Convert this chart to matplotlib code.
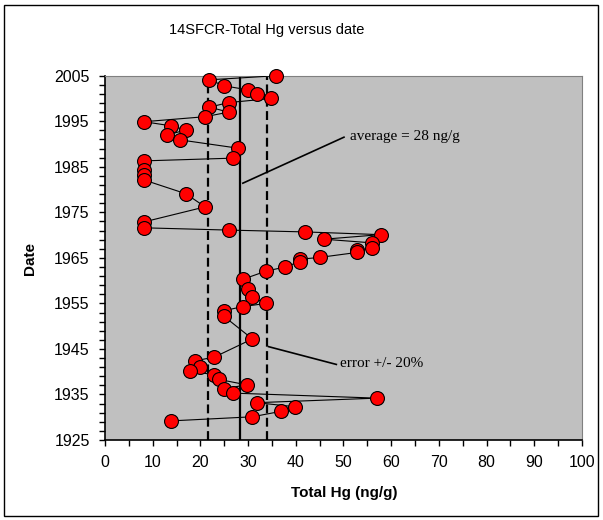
import matplotlib.pyplot as plt
from matplotlib.patches import Rectangle

# Total Hg (ng/g) against date
year = [2005.0, 2004.1, 2002.8, 2001.9, 2001.0, 2000.0, 1999.1, 1998.1, 1997.0, 1996.0,
        1994.9, 1994.0, 1993.1, 1991.9, 1990.9, 1989.1, 1986.9, 1986.3, 1984.3, 1983.2,
        1982.1, 1979.1, 1976.2, 1972.9, 1971.6, 1971.1, 1970.7, 1970.1, 1969.1, 1968.3,
        1967.1, 1966.7, 1966.2, 1965.1, 1964.7, 1964.2, 1963.0, 1962.1, 1960.3, 1958.1,
        1956.3, 1955.0, 1954.3, 1953.4, 1952.2, 1947.2, 1943.2, 1942.4, 1941.1, 1940.2,
        1939.3, 1938.3, 1937.1, 1936.3, 1935.3, 1934.2, 1933.2, 1932.3, 1931.3, 1930.1,
        1929.2]
hg = [35.9, 21.9, 24.9, 29.9, 31.8, 34.9, 25.9, 21.9, 25.9, 21.0,
      8.2, 13.8, 16.9, 12.9, 15.8, 27.8, 26.9, 8.2, 8.2, 8.2,
      8.2, 16.9, 21.0, 8.2, 8.2, 25.9, 41.9, 57.8, 45.9, 55.9,
      55.9, 52.9, 52.9, 45.0, 40.9, 40.9, 37.8, 33.8, 28.9, 29.9,
      30.9, 33.8, 28.9, 24.9, 24.9, 30.9, 22.9, 18.9, 19.9, 17.8,
      22.9, 23.9, 29.8, 24.9, 26.9, 57.0, 31.8, 39.9, 36.9, 30.9,
      13.8]

average = 28.2
err_low = 21.7
err_high = 33.9

fig = plt.figure(figsize=(6.03, 5.2), dpi=100)
ax = fig.add_axes([0.1741, 0.1538, 0.7911, 0.7006])
ax.set_facecolor("#C0C0C0")

# reference lines
ax.plot([average, average], [1925, 2005], color="black", lw=1.6, zorder=2)
for xv in [err_low, err_high]:
    ax.plot([xv, xv], [1925, 2005], color="black", lw=1.6, dashes=(4, 2), zorder=2)

ax.plot(hg, year, "-", color="black", lw=0.8, zorder=3)
ax.plot(hg, year, "o", color="red", markeredgecolor="black", markeredgewidth=0.8,
        markersize=10, zorder=4, clip_on=False)

# annotations
ax.plot([28.9, 50.1], [1981.4, 1991.5], color="black", lw=1.2, zorder=2)
ax.text(51.3, 1991.6, "average = 28 ng/g", family="Liberation Serif", fontsize=11,
        va="center", ha="left")
ax.plot([34.3, 48.5], [1945.5, 1941.6], color="black", lw=1.2, zorder=2)
ax.text(49.3, 1941.7, "error +/- 20%", family="Liberation Serif", fontsize=11,
        va="center", ha="left")

ax.set_xlim(0, 100)
ax.set_ylim(1925, 2005)
ax.set_xticks(range(0, 101, 10))
ax.set_xticks(range(0, 101, 5), minor=True)
ax.set_yticks(range(1925, 2006, 10))
ax.set_yticks(range(1925, 2006, 2), minor=True)
ax.tick_params(which="both", direction="out", length=4, width=1, color="black",
               labelsize=11.5, pad=7)
for lab in ax.get_xticklabels() + ax.get_yticklabels():
    lab.set_family("Liberation Sans")

for side in ["top", "right"]:
    ax.spines[side].set_color("#808080")
for side in ["left", "bottom"]:
    ax.spines[side].set_color("black")
    ax.spines[side].set_linewidth(1.2)

fig.text(0.4423, 0.942, "14SFCR-Total Hg versus date", family="Liberation Sans",
         fontsize=10.5, ha="center", va="center")
fig.text(0.5705, 0.052, "Total Hg (ng/g)", family="Liberation Sans", fontsize=11,
         fontweight="bold", ha="center", va="center")
fig.text(0.05, 0.503, "Date", family="Liberation Sans", fontsize=11,
         fontweight="bold", ha="center", va="center", rotation=90)

# chart border
fig.patches.append(Rectangle((4 / 603, 4 / 520), 594 / 603, 511 / 520, fill=False,
                             edgecolor="black", lw=1, transform=fig.transFigure))

fig.savefig("out.png", dpi=100)
